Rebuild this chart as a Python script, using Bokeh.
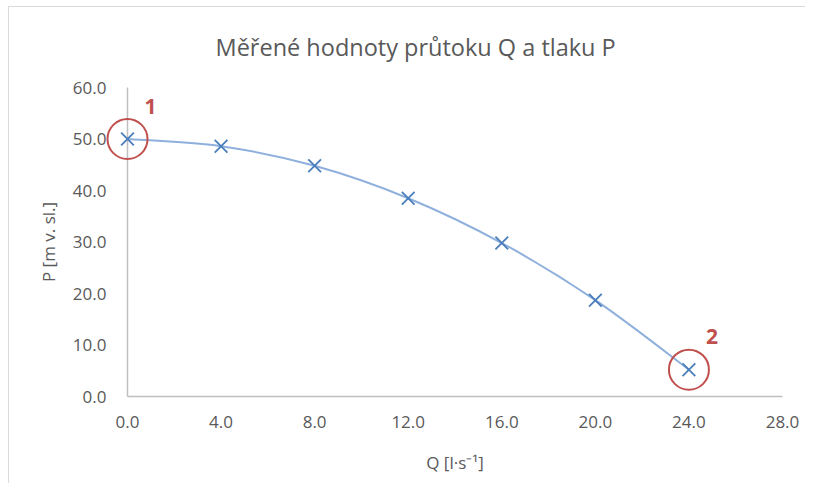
import numpy as np
from bokeh.plotting import figure
from bokeh.models import (FixedTicker, NumeralTickFormatter, LabelSet,
                          ColumnDataSource, Range1d, Title)
from bokeh.core.properties import value
from bokeh.embed import file_html
from bokeh.resources import INLINE

# ---- data ----
title_text = "Měřené hodnoty průtoku Q a tlaku P"
x_label = "Q [l·s⁻¹]"
y_label = "P [m v. sl.]"
q_values = [0.0, 4.0, 8.0, 12.0, 16.0, 20.0, 24.0]
p_values = [50.0, 48.6, 44.8, 38.5, 29.8, 18.7, 5.2]
x_ticks = [0, 4, 8, 12, 16, 20, 24, 28]
y_ticks = [0, 10, 20, 30, 40, 50, 60]
highlight_index = [0, 6]
highlight_labels = ["1", "2"]

FONT = "Open Sans"
GREY = "#595959"
BLUE = "#4A7EBB"
LINE_BLUE = "#8FB0DD"
RED = "#C0504D"

p = figure(width=797, height=477, output_backend="svg", toolbar_location=None,
           x_range=Range1d(0, 28), y_range=Range1d(0, 60),
           min_border_left=118, min_border_right=24, min_border_top=80,
           min_border_bottom=88,
           styles={"margin-left": "8px", "margin-top": "6px",
                   "border-top": "1.5px solid #D9D9D9",
                   "border-left": "1.5px solid #D9D9D9"})
p.outline_line_color = None
p.grid.visible = False
p.background_fill_color = "white"
p.border_fill_color = "white"

p.title = Title(text=title_text, align="left", offset=88, standoff=45,
                vertical_align="top",
                text_font=FONT, text_font_size="23.5px", text_color=GREY,
                text_font_style="normal")

for ax in (p.xaxis[0], p.yaxis[0]):
    ax.axis_line_color = "#BFBFBF"
    ax.axis_line_width = 1.5
    ax.major_tick_line_color = None
    ax.minor_tick_line_color = None
    ax.major_label_text_font = FONT
    ax.major_label_text_font_size = "17px"
    ax.major_label_text_color = GREY
    ax.axis_label_text_font = FONT
    ax.axis_label_text_font_size = "17px"
    ax.axis_label_text_color = GREY
    ax.axis_label_text_font_style = "normal"
    ax.formatter = NumeralTickFormatter(format="0.0")

p.xaxis[0].ticker = FixedTicker(ticks=x_ticks)
p.yaxis[0].ticker = FixedTicker(ticks=y_ticks)
p.xaxis[0].axis_label = x_label
p.yaxis[0].axis_label = y_label
p.xaxis[0].major_label_standoff = 13
p.yaxis[0].major_label_standoff = 15
p.xaxis[0].axis_label_standoff = 20
p.yaxis[0].axis_label_standoff = 10

# smoothed curve (Catmull-Rom style bezier through measured points)
q = np.array(q_values)
pv = np.array(p_values)
n = len(q)
qp = np.concatenate([[q[0]], q, [q[-1]]])
pp = np.concatenate([[pv[0]], pv, [pv[-1]]])
x0 = q[:-1]; y0 = pv[:-1]; x1 = q[1:]; y1 = pv[1:]
cx0 = q[:-1] + (qp[2:n + 1] - qp[0:n - 1]) / 6.0
cy0 = pv[:-1] + (pp[2:n + 1] - pp[0:n - 1]) / 6.0
cx1 = q[1:] - (qp[3:n + 2] - qp[1:n]) / 6.0
cy1 = pv[1:] - (pp[3:n + 2] - pp[1:n]) / 6.0
p.bezier(x0=x0, y0=y0, x1=x1, y1=y1, cx0=cx0, cy0=cy0, cx1=cx1, cy1=cy1,
         line_color=LINE_BLUE, line_width=2)

p.scatter(q_values, p_values, marker="x", size=18, line_color=BLUE, line_width=1.8,
          level="overlay")

hx = [q_values[i] for i in highlight_index]
hy = [p_values[i] for i in highlight_index]
p.scatter(hx, hy, marker="circle", size=40, fill_color=None, line_color=RED,
          line_width=2, level="overlay")

src = ColumnDataSource(dict(x=hx, y=hy, t=highlight_labels))
p.add_layout(LabelSet(x="x", y="y", text="t", source=src, x_offset=23, y_offset=33,
                      text_align="center", text_baseline="middle",
                      text_font=value("Open Sans"), text_font_size="21px",
                      text_font_style="bold", text_color=RED))

open("out.html", "w").write(file_html(p, INLINE))
